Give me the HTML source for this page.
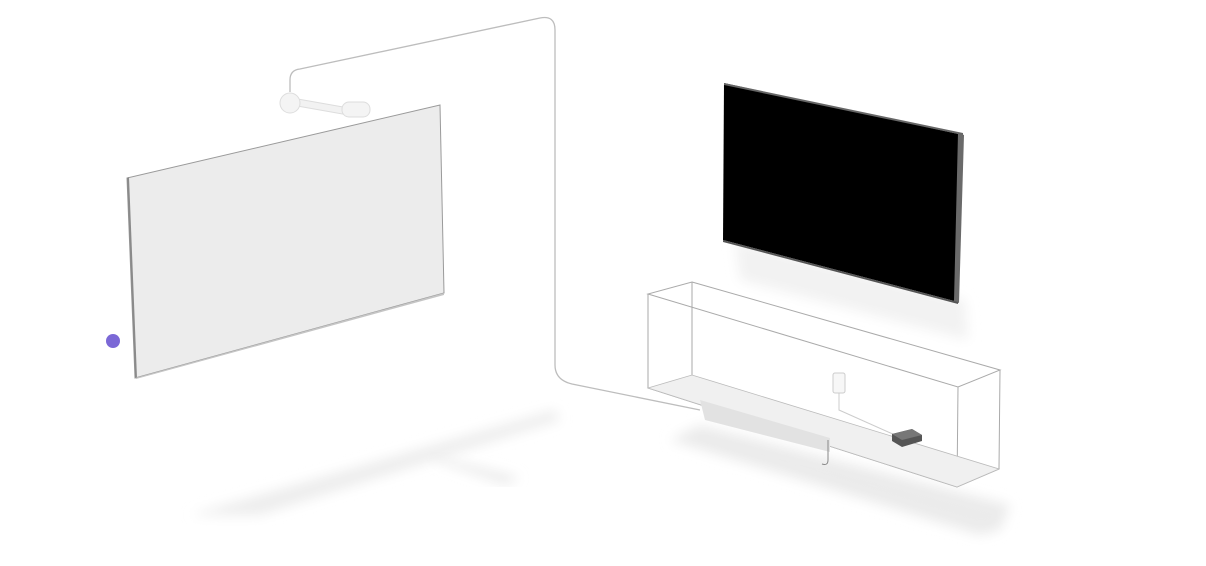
<!DOCTYPE html><html><head><style>html,body{margin:0;padding:0;background:#fff;width:1206px;height:566px;overflow:hidden}</style></head><body>
<svg width="1206" height="566" viewBox="0 0 1206 566" xmlns="http://www.w3.org/2000/svg">
<defs>
<filter id="b"><feGaussianBlur stdDeviation="6"/></filter>
</defs>
<polygon points="190,515 555,410 560,420 260,515" fill="#ededed" filter="url(#b)"/>
<polygon points="430,455 520,478 505,484 440,462" fill="#e8e8e8" filter="url(#b)"/>
<polygon points="735,240 965,300 968,340 740,280" fill="#f2f2f2" filter="url(#b)"/>
<polygon points="670,440 700,425 1010,505 1000,530 980,535" fill="#ebebeb" filter="url(#b)"/>
<path d="M290,92 L290,80 Q290,70 300,69 L540,18 Q555,15 555,30 L555,365 Q555,380 572,384 L700,410" fill="none" stroke="#bdbdbd" stroke-width="1.3"/>
<polygon points="127,178 440,105 444,293 135,378" fill="#ececec" stroke="#9a9a9a" stroke-width="1"/>
<polygon points="127,178 129,177 137,378 135,378" fill="#8a8a8a"/>
<polygon points="135,378 444,293 444,295 136,379" fill="#c5c5c5"/>
<rect x="292" y="98" width="62" height="7" rx="3" fill="#f2f2f2" stroke="#ddd" transform="rotate(10 292 98)"/>
<circle cx="290" cy="103" r="10" fill="#f4f4f4" stroke="#ddd"/>
<rect x="342" y="102" width="28" height="15" rx="7" fill="#f4f4f4" stroke="#ddd"/>
<polygon points="724,83 963,135 958,302 723,240" fill="#000"/>
<polygon points="958,133 964,135 959,303 954,301" fill="#6a6a6a"/>
<polygon points="723,240 958,302 958,304 723,242" fill="#555"/>
<polygon points="724,83 963,133 963,135 724,85" fill="#666"/>
<g fill="none" stroke="#aaa" stroke-width="1">
<polygon points="692,282 1000,370 958,387 648,294"/>
<polyline points="648,294 648,388 957,487 999,469 1000,370"/>
<line x1="958" y1="387" x2="957" y2="487"/>
<line x1="692" y1="282" x2="692" y2="375"/>
</g>
<polygon points="648,388 692,375 999,469 957,487" fill="#f0f0f0" stroke="#bbb" stroke-width="0.8"/>
<polygon points="700,400 830,438 830,452 705,420" fill="#e2e2e2"/>
<path d="M828,440 L828,460 Q828,466 822,464" stroke="#888" fill="none"/>
<rect x="833" y="373" width="12" height="20" rx="2" fill="#f7f7f7" stroke="#ccc"/>
<path d="M839,393 L839,410 L895,435" stroke="#ccc" fill="none"/>
<polygon points="892,434 912,429 922,435 922,441 902,447 892,441" fill="#555"/>
<polygon points="892,434 912,429 922,435 902,440" fill="#777"/>
<circle cx="113" cy="341" r="7" fill="#7b68d6"/>
</svg>
</body></html>
